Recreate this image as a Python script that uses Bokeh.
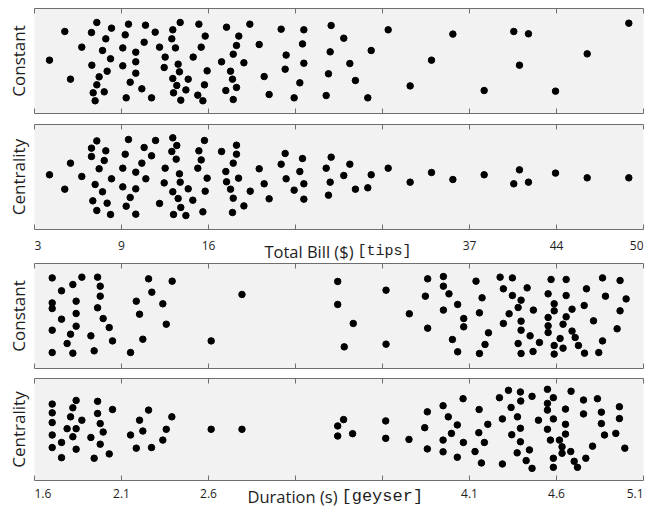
import numpy as np
from bokeh.plotting import figure
from bokeh.models import LinearAxis, FixedTicker, Range1d
from bokeh.core.properties import value
from bokeh.layouts import column
from bokeh.embed import file_html
from bokeh.resources import INLINE

# ---------------- data ----------------
tips_tick_text = ["3", "9", "16", "", "", "37", "44", "50"]
geyser_tick_text = ["1.6", "2.1", "2.6", "", "", "4.1", "4.6", "5.1"]

tips_range = (1.834, 52.02)
geyser_range = (1.492, 5.208)

tips_const_x = [3.07, 4.33, 4.80, 5.73, 6.97, 6.53, 8.18, 7.71, 7.44, 8.10, 6.56, 7.82, 7.16, 6.97, 6.67,
                7.58, 6.83, 9.58, 9.31, 9.11, 9.11, 10.18, 10.18, 10.18, 9.72, 10.68, 9.39, 10.98, 11.78,
                10.87, 11.48, 13.84, 13.23, 13.15, 12.14, 13.45, 12.60, 12.52, 13.67, 13.78, 13.23, 14.50,
                13.56, 14.31, 13.29, 13.89, 15.38, 15.90, 15.57, 14.91, 16.06, 15.84, 15.29, 15.71, 17.66,
                18.67, 18.48, 18.21, 17.25, 19.09, 17.99, 18.15, 18.48, 17.60, 18.21, 19.58, 20.35, 20.76,
                21.17, 22.16, 22.57, 22.49, 23.23, 24.03, 23.92, 24.03, 23.70, 26.28, 27.32, 26.20, 27.82,
                26.06, 28.28, 25.87, 29.30, 29.58, 30.98, 32.79, 34.55, 36.31, 38.89, 41.33, 42.54, 41.80,
                44.77, 47.38, 50.81]
tips_const_y = [0.508, 0.781, 0.327, 0.632, 0.867, 0.771, 0.813, 0.711, 0.600, 0.521, 0.460, 0.403, 0.349,
                0.273, 0.197, 0.206, 0.121, 0.851, 0.749, 0.625, 0.454, 0.584, 0.492, 0.384, 0.298, 0.235,
                0.149, 0.841, 0.775, 0.679, 0.149, 0.867, 0.797, 0.711, 0.632, 0.625, 0.537, 0.438, 0.470,
                0.397, 0.333, 0.327, 0.267, 0.225, 0.197, 0.127, 0.851, 0.737, 0.632, 0.537, 0.406, 0.273,
                0.175, 0.121, 0.822, 0.737, 0.648, 0.565, 0.492, 0.483, 0.403, 0.327, 0.248, 0.219, 0.133,
                0.851, 0.657, 0.352, 0.181, 0.803, 0.556, 0.422, 0.149, 0.797, 0.663, 0.479, 0.292, 0.838,
                0.717, 0.587, 0.476, 0.378, 0.314, 0.171, 0.149, 0.600, 0.797, 0.263, 0.508, 0.756, 0.219,
                0.781, 0.759, 0.460, 0.213, 0.568, 0.860]

tips_cent_x = [3.07, 4.33, 4.80, 5.73, 6.97, 6.53, 6.53, 7.71, 7.58, 7.16, 8.18, 6.83, 7.44, 6.64, 7.82,
               6.97, 8.10, 9.58, 9.31, 9.11, 9.11, 9.72, 9.39, 10.18, 10.18, 10.18, 10.87, 10.68, 11.01,
               11.81, 11.48, 12.60, 12.52, 12.14, 13.23, 13.56, 13.15, 13.51, 13.78, 13.84, 13.23, 13.67,
               14.50, 14.88, 13.89, 13.29, 14.31, 15.84, 15.38, 15.57, 15.29, 16.06, 15.90, 15.71, 17.25,
               18.48, 18.48, 18.21, 17.60, 17.66, 18.65, 17.99, 18.21, 19.09, 18.15, 19.61, 20.35, 20.76,
               21.17, 22.16, 22.49, 22.57, 23.23, 23.92, 23.70, 24.03, 24.03, 26.28, 25.87, 26.20, 26.06,
               27.82, 27.32, 28.28, 29.30, 29.58, 30.98, 32.79, 34.55, 36.31, 38.89, 41.80, 41.33, 42.54,
               44.77, 47.38, 50.81]
tips_cent_y = [0.521, 0.384, 0.632, 0.505, 0.844, 0.775, 0.695, 0.749, 0.657, 0.578, 0.483, 0.429, 0.359,
               0.273, 0.251, 0.181, 0.143, 0.857, 0.717, 0.584, 0.406, 0.305, 0.222, 0.146, 0.387, 0.546,
               0.781, 0.632, 0.483, 0.848, 0.702, 0.584, 0.444, 0.248, 0.873, 0.800, 0.743, 0.670, 0.530,
               0.451, 0.359, 0.295, 0.387, 0.279, 0.210, 0.143, 0.133, 0.848, 0.749, 0.663, 0.584, 0.489,
               0.365, 0.168, 0.743, 0.803, 0.717, 0.632, 0.552, 0.454, 0.489, 0.384, 0.298, 0.225, 0.162,
               0.365, 0.578, 0.435, 0.292, 0.622, 0.724, 0.483, 0.375, 0.676, 0.552, 0.435, 0.289, 0.689,
               0.584, 0.451, 0.327, 0.622, 0.514, 0.384, 0.397, 0.521, 0.584, 0.451, 0.543, 0.476, 0.521,
               0.568, 0.435, 0.451, 0.537, 0.492, 0.492]

geyser_const_x = [1.600, 1.657, 1.600, 1.600, 1.657, 1.600, 1.600, 1.781, 1.726, 1.746, 1.746, 1.746, 1.712,
                  1.691, 1.726, 1.877, 1.893, 1.893, 1.877, 1.911, 1.948, 1.836, 1.968, 1.856, 2.188, 2.208,
                  2.113, 2.275, 2.133, 2.296, 2.153, 2.078, 2.332, 2.758, 2.570,
                  3.342, 3.342, 3.437, 3.382, 3.637, 3.637, 3.779, 3.891, 3.877, 3.891, 3.987, 3.987, 4.021,
                  3.987, 4.074, 4.111, 4.111, 4.042, 4.074, 4.186, 4.223, 4.207, 4.262, 4.241, 4.207, 4.333,
                  4.408, 4.353, 4.498, 4.408, 4.461, 4.443, 4.388, 4.536, 4.353, 4.461, 4.461, 4.516, 4.443,
                  4.573, 4.461, 4.534, 4.644, 4.736, 4.626, 4.736, 4.663, 4.663, 4.626, 4.772, 4.736, 4.626,
                  4.717, 4.626, 4.772, 4.699, 4.791, 4.663, 4.717, 4.811, 4.663, 4.848, 4.860, 4.846, 4.903,
                  4.958, 4.976, 5.065, 5.102, 5.065, 5.047, 4.958, 4.935]
geyser_const_y = [0.863, 0.740, 0.625, 0.571, 0.470, 0.365, 0.152, 0.870, 0.800, 0.641, 0.524, 0.403, 0.327,
                  0.238, 0.146, 0.870, 0.784, 0.689, 0.578, 0.476, 0.390, 0.311, 0.263, 0.168, 0.854, 0.727,
                  0.641, 0.616, 0.517, 0.422, 0.279, 0.152, 0.832, 0.705, 0.263,
                  0.829, 0.610, 0.429, 0.206, 0.746, 0.232, 0.521, 0.854, 0.689, 0.384, 0.876, 0.784, 0.711,
                  0.556, 0.610, 0.476, 0.397, 0.276, 0.159, 0.832, 0.673, 0.530, 0.340, 0.229, 0.143, 0.870,
                  0.863, 0.759, 0.768, 0.695, 0.651, 0.581, 0.521, 0.556, 0.429, 0.451, 0.365, 0.311, 0.238,
                  0.248, 0.143, 0.162, 0.848, 0.848, 0.711, 0.695, 0.616, 0.549, 0.486, 0.565, 0.492, 0.406,
                  0.422, 0.343, 0.356, 0.286, 0.295, 0.219, 0.194, 0.219, 0.137, 0.146, 0.759, 0.600, 0.454,
                  0.863, 0.689, 0.838, 0.663, 0.549, 0.378, 0.263, 0.152]

geyser_cent_x = [1.600, 1.600, 1.600, 1.600, 1.600, 1.657, 1.657, 1.746, 1.726, 1.712, 1.781, 1.691, 1.746,
                 1.726, 1.746, 1.877, 1.877, 1.893, 1.911, 1.836, 1.893, 1.948, 1.856, 1.968, 2.188, 2.330,
                 2.133, 2.153, 2.296, 2.078, 2.275, 2.113, 2.206, 2.570, 2.758,
                 3.342, 3.378, 3.342, 3.433, 3.635, 3.635, 3.777, 3.889, 3.873, 3.889, 3.985, 4.017, 4.036,
                 4.072, 3.985, 3.985, 4.072, 4.109, 4.107, 4.205, 4.258, 4.203, 4.237, 4.180, 4.219, 4.329,
                 4.384, 4.347, 4.400, 4.457, 4.459, 4.528, 4.439, 4.404, 4.457, 4.457, 4.437, 4.512, 4.347,
                 4.492, 4.528, 4.567, 4.622, 4.622, 4.658, 4.622, 4.658, 4.622, 4.640, 4.695, 4.711, 4.711,
                 4.658, 4.658, 4.764, 4.785, 4.805, 4.766, 4.732, 4.732, 4.732, 4.842, 4.842, 4.897, 4.856,
                 4.927, 4.951, 4.951, 4.970, 5.061, 5.061, 5.039, 5.094]
geyser_cent_y = [0.749, 0.663, 0.568, 0.446, 0.323, 0.373, 0.224, 0.785, 0.713, 0.624, 0.591, 0.508, 0.508,
                 0.429, 0.307, 0.776, 0.657, 0.558, 0.475, 0.422, 0.356, 0.261, 0.218, 0.696, 0.690, 0.624,
                 0.591, 0.485, 0.502, 0.446, 0.396, 0.317, 0.323, 0.502, 0.502,
                 0.535, 0.597, 0.436, 0.459, 0.584, 0.413, 0.403, 0.673, 0.518, 0.310, 0.733, 0.624, 0.462,
                 0.545, 0.396, 0.281, 0.228, 0.373, 0.802, 0.696, 0.551, 0.469, 0.373, 0.284, 0.172, 0.812,
                 0.884, 0.604, 0.716, 0.868, 0.779, 0.825, 0.624, 0.449, 0.512, 0.380, 0.271, 0.300, 0.162,
                 0.195, 0.119, 0.591, 0.894, 0.756, 0.812, 0.690, 0.604, 0.502, 0.396, 0.396, 0.330, 0.267,
                 0.218, 0.129, 0.284, 0.188, 0.129, 0.875, 0.700, 0.551, 0.455, 0.789, 0.653, 0.337, 0.218,
                 0.802, 0.670, 0.558, 0.446, 0.723, 0.607, 0.462, 0.317]

# ---------------- style ----------------
FONT = "Open Sans"
MONO = "Liberation Mono"
AX = "#6e6e6e"
BG = "#f2f2f2"
TXT = "#1e1e1e"
W = 649
LEFT = 34
RIGHT = 6


def panel(xs, ys, rng, frame_h, top, bottom, ylabel):
    lo, hi = rng
    p = figure(width=W, height=top + frame_h + bottom,
               x_range=Range1d(lo, hi), y_range=Range1d(0, 1),
               x_axis_location=None, y_axis_location=None,
               toolbar_location=None, output_backend="svg",
               min_border_left=LEFT, min_border_right=RIGHT,
               min_border_top=top, min_border_bottom=bottom)
    p.background_fill_color = BG
    p.border_fill_color = "white"
    p.outline_line_color = None
    p.grid.visible = False
    ticks = [float(round(v, 6)) for v in np.linspace(lo, hi, 8)]
    for loc in ("above", "below"):
        ax = LinearAxis(ticker=FixedTicker(ticks=ticks, minor_ticks=[]),
                        major_tick_in=5, major_tick_out=0,
                        minor_tick_in=0, minor_tick_out=0,
                        major_label_text_font_size="0px", major_label_text_color=None,
                        major_label_standoff=0,
                        axis_line_color=AX, major_tick_line_color=AX)
        p.add_layout(ax, loc)
    yax = LinearAxis(ticker=FixedTicker(ticks=[]), axis_label=ylabel,
                     axis_line_color=None, major_tick_in=0, major_tick_out=0,
                     minor_tick_in=0, minor_tick_out=0,
                     major_label_text_font_size="0px", major_label_text_color=None,
                     major_label_standoff=0,
                     axis_label_standoff=5, axis_label_text_font=FONT,
                     axis_label_text_font_size="17px", axis_label_text_font_style="normal",
                     axis_label_text_color=TXT)
    p.add_layout(yax, "left")
    p.scatter(xs, ys, size=6.5, color="black")
    return p, ticks


def text_strip(rng, ticks, texts, height, tick_base, title_base, sans, mono, split_px, mono_size):
    """A strip under a panel holding its tick labels and its axis title."""
    lo, hi = rng
    s = figure(width=W, height=height, x_range=Range1d(lo, hi), y_range=Range1d(0, height),
               x_axis_location=None, y_axis_location=None,
               toolbar_location=None, output_backend="svg",
               min_border_left=LEFT, min_border_right=RIGHT,
               min_border_top=0, min_border_bottom=0)
    s.outline_line_color = None
    s.background_fill_color = "white"
    s.grid.visible = False
    n = len(ticks)
    groups = {"left": ([], []), "center": ([], []), "right": ([], [])}
    for i, (t, lab) in enumerate(zip(ticks, texts)):
        if not lab:
            continue
        align = "left" if i == 0 else ("right" if i == n - 1 else "center")
        groups[align][0].append(t)
        groups[align][1].append(lab)
    for align, (gx, gt) in groups.items():
        if gx:
            s.text(x=gx, y=[height - tick_base] * len(gx), text=gt,
                   text_align=align, text_baseline="alphabetic",
                   text_font=value(FONT), text_font_size=value("12px"), text_color=TXT)
    per_px = (hi - lo) / 609.0
    xs = lo + (split_px - LEFT) * per_px
    s.text(x=[xs], y=[height - title_base], text=[sans], text_align="right",
           text_baseline="alphabetic", text_font=value(FONT),
           text_font_size=value("16.5px"), text_color=TXT)
    s.text(x=[xs + 4 * per_px], y=[height - title_base], text=[mono], text_align="left",
           text_baseline="alphabetic", text_font=value(MONO),
           text_font_size=value(mono_size), text_color=TXT)
    return s


p1, t1 = panel(tips_const_x, tips_const_y, tips_range, 105, 8, 10, "Constant")
p2, t2 = panel(tips_cent_x, tips_cent_y, tips_range, 105, 1, 1, "Centrality")
s2 = text_strip(tips_range, t2, tips_tick_text, 32, 14.5, 21, "Total Bill ($)", "[tips]", 353, "15px")
p3, t3 = panel(geyser_const_x, geyser_const_y, geyser_range, 105, 1, 9, "Constant")
p4, t4 = panel(geyser_cent_x, geyser_cent_y, geyser_range, 102, 1, 1, "Centrality")
s4 = text_strip(geyser_range, t4, geyser_tick_text, 25, 12, 14.5, "Duration (s)", "[geyser]", 337, "17px")

layout = column(p1, p2, s2, p3, p4, s4, spacing=0)
open("out.html", "w").write(file_html(layout, INLINE))
